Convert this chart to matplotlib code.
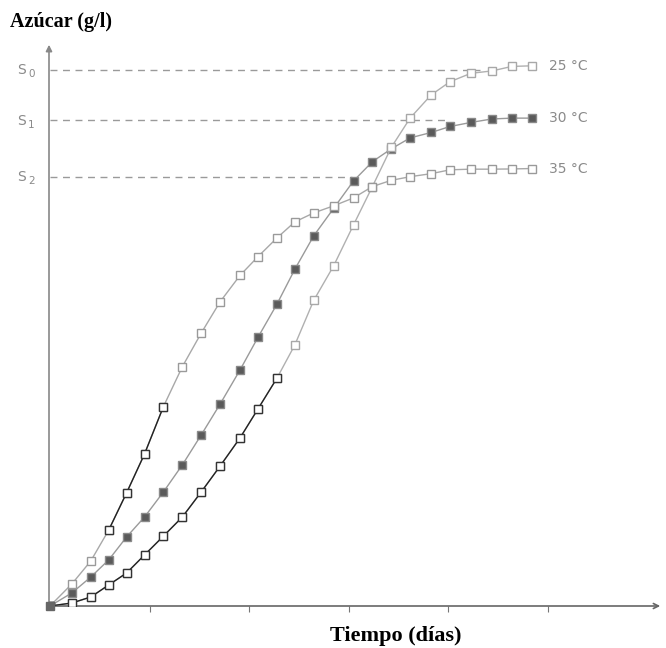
import matplotlib
matplotlib.use("Agg")
import matplotlib.pyplot as plt

# time (days) of each sample
tiempo = [0, 0.22, 0.41, 0.59, 0.77, 0.95, 1.14, 1.33, 1.52, 1.71, 1.91, 2.09, 2.28,
          2.46, 2.65, 2.85, 3.05, 3.24, 3.43, 3.62, 3.83, 4.02, 4.23, 4.44, 4.64, 4.84]

# sugar (arbitrary g/l units, S0 = 250)
azucar_25 = [0, 1.4, 4.2, 9.8, 15.4, 23.8, 32.6, 41.5, 53.2, 65.3, 78.4, 91.9, 106.2,
             121.7, 142.5, 158.6, 177.7, 195.6, 213.9, 227.6, 238.3, 244.5, 248.4, 249.5, 251.6, 251.9]
azucar_30 = [0, 6.1, 13.5, 21.5, 32.2, 41.5, 53.2, 65.8, 79.8, 94.2, 110.1, 125.3, 140.7,
             157.0, 172.6, 185.4, 198.2, 207.2, 213.2, 218.3, 220.8, 223.6, 225.5, 227.1, 227.5, 227.5]
azucar_35 = [0, 10.3, 21.0, 35.4, 52.8, 70.9, 93.0, 111.6, 127.3, 141.9, 154.2, 162.9, 171.6,
             179.1, 183.3, 186.6, 190.3, 195.6, 198.5, 200.2, 201.6, 203.4, 203.7, 203.7, 203.8, 204.0]

niveles = [250, 226.4, 200.2]
niveles_txt = ["0", "1", "2"]
niveles_fin = [4.32, 3.99, 3.03]

etiquetas = ["25 °C", "30 °C", "35 °C"]

W, H = 666, 648
fig = plt.figure(figsize=(W / 100, H / 100), dpi=100)
ax = fig.add_axes([49 / W, 42 / H, (663 - 49) / W, (606 - 42) / H])
ax.set_xlim(-0.01, 6.16)
ax.set_ylim(0, 263)
for s in ax.spines.values():
    s.set_visible(False)
ax.set_yticks([])
ax.set_xticks([1, 2, 3, 4, 5])
ax.set_xticklabels([])
ax.tick_params(axis="x", direction="out", length=4, width=0.8, color="#777777")

gris = "#9a9a9a"
oscuro = "#222222"

# axes with arrows
ax.annotate("", xy=(0, 1.0), xytext=(0, 0), xycoords="axes fraction",
            arrowprops=dict(arrowstyle="-|>", color="#888888", lw=1.2, mutation_scale=9))
ax.annotate("", xy=(1.0, 0), xytext=(0, 0), xycoords="axes fraction",
            arrowprops=dict(arrowstyle="->", color="#666666", lw=1.2, mutation_scale=9))

# dashed reference levels
for nivel, sub, fin in zip(niveles, niveles_txt, niveles_fin):
    ax.plot([0, fin], [nivel, nivel], ls=(0, (5, 4)), color=gris, lw=1.0, zorder=1)
    fig.text(17 / W, (nivel * 2.144 + 42) / H, "S", color="#8a8a8a", fontsize=10,
             va="center", ha="left", family="DejaVu Sans")
    fig.text(28 / W, (nivel * 2.144 + 42 - 4) / H, sub, color="#8a8a8a", fontsize=7.5,
             va="center", ha="left", family="DejaVu Sans")

ms = 6
lw = 1.0
# 30 °C: filled squares
ax.plot(tiempo, azucar_30, color=gris, lw=lw, marker="s", ms=ms,
        mfc="#5a5a5a", mec="#8a8a8a", zorder=3)

# 25 °C: open squares, dark in the lower part
ax.plot(tiempo, azucar_25, color="#b0b0b0", lw=lw, marker="s", ms=ms,
        mfc="white", mec="#a8a8a8", zorder=3)
ax.plot(tiempo[:13], azucar_25[:13], color=oscuro, lw=lw, marker="s", ms=ms,
        mfc="white", mec="#333333", zorder=4)

# 35 °C: open squares, dark in a lower part
ax.plot(tiempo, azucar_35, color="#a8a8a8", lw=lw, marker="s", ms=ms,
        mfc="white", mec="#9a9a9a", zorder=3)
ax.plot(tiempo[3:7], azucar_35[3:7], color=oscuro, lw=lw, marker="s", ms=ms,
        mfc="white", mec="#333333", zorder=4)

# common origin point
ax.plot([0], [0], marker="s", ms=ms, mfc="#666666", mec="#666666", zorder=5, clip_on=False)

for serie, txt in zip([azucar_25, azucar_30, azucar_35], etiquetas):
    ax.text(tiempo[-1] + 0.17, serie[-1], txt, color="#8a8a8a", fontsize=10,
            va="center", ha="left", family="DejaVu Sans")

fig.text(10 / W, 1 - 22 / H, "Azúcar (g/l)", fontsize=14.5, fontweight="bold",
         family="Liberation Serif", va="center", ha="left")
fig.text(396 / W, 1 - 636 / H, "Tiempo (días)", fontsize=16, fontweight="bold",
         family="Liberation Serif", va="center", ha="center")

fig.savefig("out.png", dpi=100)
